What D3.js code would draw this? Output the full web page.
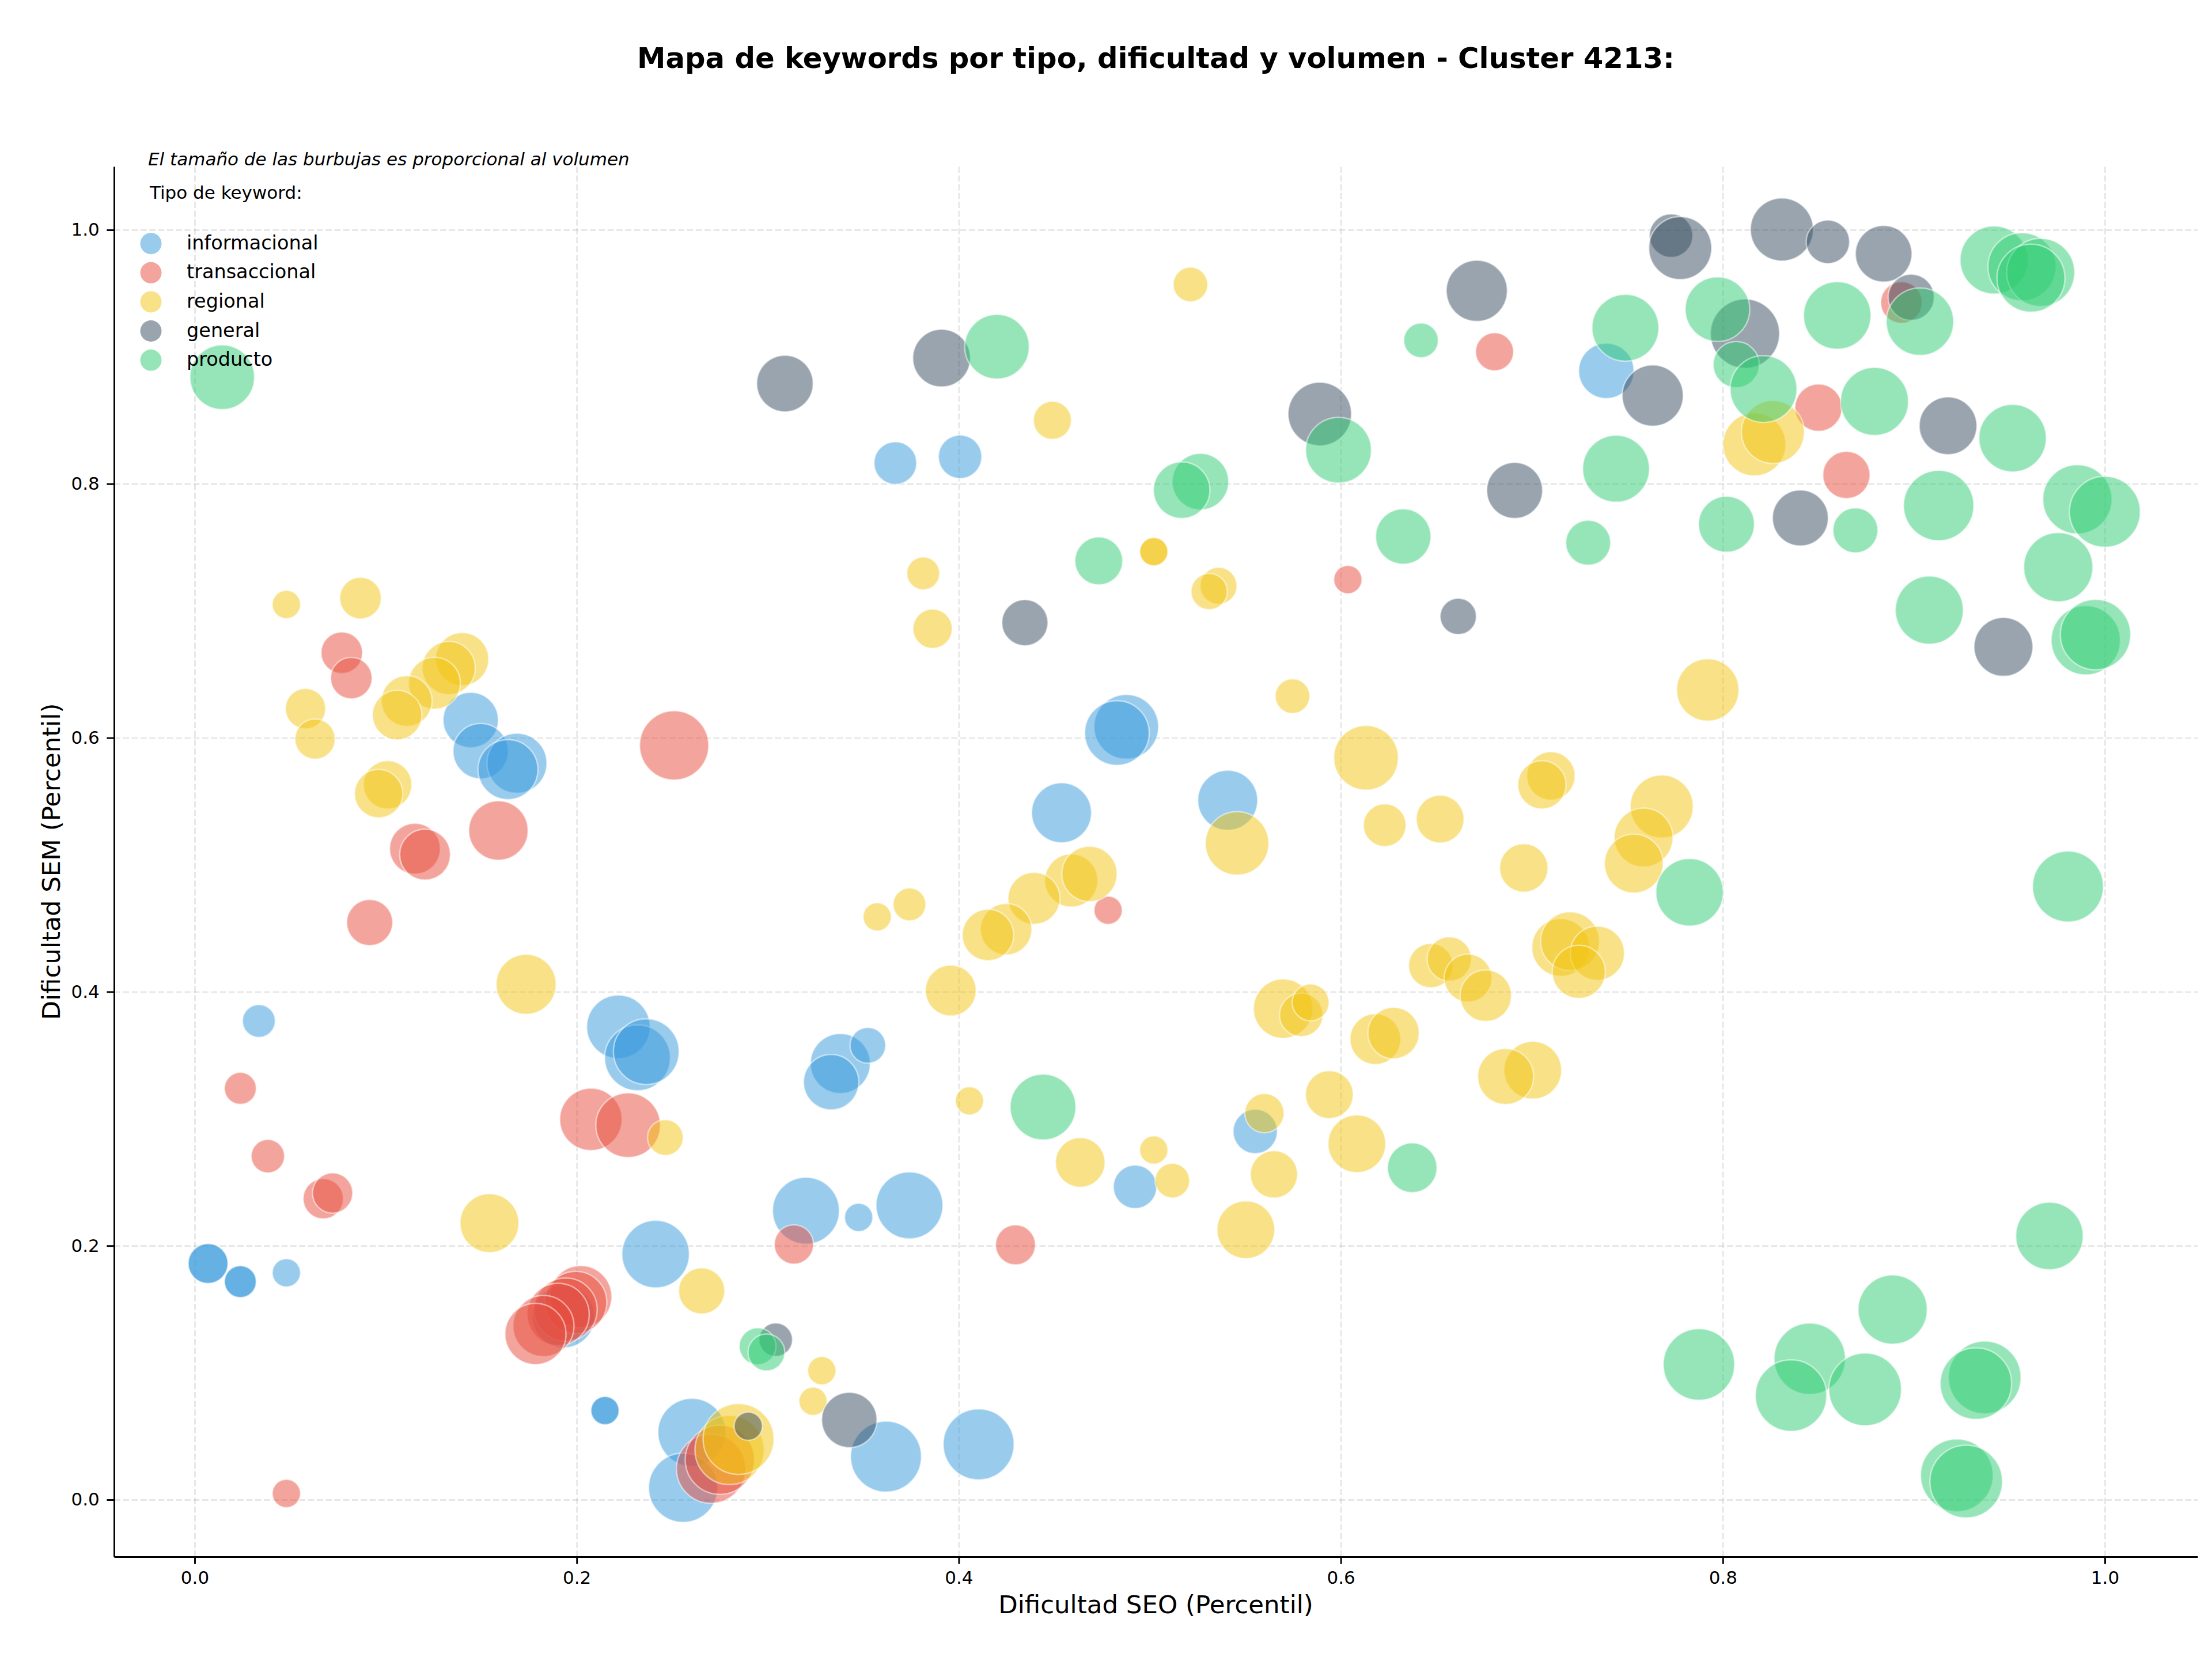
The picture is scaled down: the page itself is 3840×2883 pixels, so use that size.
<!DOCTYPE html>
<html>
<head>
<meta charset="utf-8">
<script src="https://cdn.jsdelivr.net/npm/d3@7"></script>
<style>
  body { margin: 0; background: #fff; }
  text { font-family: "DejaVu Sans", sans-serif; }
</style>
</head>
<body>
<div id="chart"></div>
<script>
// tipos de keyword (orden de dibujo)
var tipos = ["informacional", "transaccional", "regional", "general", "producto"];

// cada punto: [dificultad SEO, dificultad SEM, volumen]
var informacional = [
  [0.1445, 0.614, 2300], [0.1497, 0.5895, 2300], [0.1687, 0.580, 2700], [0.164, 0.575, 2700],
  [0.3668, 0.8164, 1370], [0.4007, 0.8213, 1420], [0.4877, 0.6087, 3140], [0.4828, 0.6038, 3140],
  [0.4538, 0.541, 2700], [0.5408, 0.5508, 2700], [0.739, 0.889, 2300], [0.0336, 0.377, 810],
  [0.2218, 0.3724, 3030], [0.2318, 0.348, 3250], [0.2364, 0.3529, 3250],
  [0.007, 0.186, 1200], [0.007, 0.186, 1200], [0.0239, 0.1717, 770], [0.0239, 0.1717, 770],
  [0.048, 0.1787, 600], [0.2413, 0.1934, 3420], [0.1931, 0.1441, 2920],
  [0.2148, 0.0702, 600], [0.2148, 0.0702, 600], [0.2603, 0.053, 3480], [0.2557, 0.0094, 3600],
  [0.338, 0.3435, 2700], [0.3332, 0.3288, 2300], [0.3524, 0.3578, 960], [0.4923, 0.2464, 1420],
  [0.5552, 0.29, 1480], [0.32, 0.2276, 3360], [0.3476, 0.2223, 600], [0.3742, 0.2318, 3360],
  [0.3619, 0.0339, 3780], [0.4104, 0.0436, 3780]
];
var transaccional = [
  [0.077, 0.667, 1300], [0.082, 0.647, 1300], [0.251, 0.594, 3600], [0.159, 0.527, 2650],
  [0.1153, 0.5127, 1940], [0.1206, 0.508, 1940], [0.6805, 0.904, 1090], [0.6037, 0.7246, 600],
  [0.8935, 0.9428, 1300], [0.8501, 0.86, 1680], [0.8647, 0.807, 1680], [0.0916, 0.4545, 1600],
  [0.0239, 0.3239, 770], [0.0383, 0.2705, 840], [0.0673, 0.237, 1220], [0.0722, 0.2415, 1220],
  [0.2074, 0.2995, 2920], [0.2269, 0.2949, 3140], [0.3137, 0.201, 1160],
  [0.2021, 0.1599, 2900], [0.1995, 0.1553, 2900], [0.1942, 0.1497, 3000], [0.1903, 0.1459, 2900],
  [0.1826, 0.1368, 2800], [0.1784, 0.1305, 2810], [0.2703, 0.0244, 3600], [0.2749, 0.0314, 3600],
  [0.048, 0.0049, 600], [0.4782, 0.4642, 600], [0.4297, 0.2007, 1200]
];
var regional = [
  [0.048, 0.705, 600], [0.0868, 0.710, 1300], [0.140, 0.662, 2120], [0.133, 0.655, 2120],
  [0.1255, 0.643, 2030], [0.111, 0.629, 1940], [0.106, 0.618, 1850], [0.058, 0.623, 1220],
  [0.063, 0.599, 1220], [0.101, 0.563, 1760], [0.0963, 0.556, 1760], [0.5213, 0.957, 900],
  [0.449, 0.850, 1090], [0.5021, 0.7466, 600], [0.5021, 0.7466, 600], [0.536, 0.7197, 1020],
  [0.5311, 0.7152, 990], [0.3814, 0.7295, 810], [0.3863, 0.6859, 1160], [0.5747, 0.6328, 900],
  [0.6132, 0.5843, 3140], [0.5457, 0.5169, 3030], [0.623, 0.5312, 1370], [0.652, 0.536, 1720],
  [0.8165, 0.8311, 2980], [0.8262, 0.8408, 2980], [0.7921, 0.6377, 2920], [0.71, 0.570, 1760],
  [0.7053, 0.563, 1760], [0.768, 0.5459, 2980], [0.7585, 0.5215, 2600], [0.7534, 0.501, 2600],
  [0.6958, 0.4975, 1760], [0.7151, 0.4349, 2500], [0.72, 0.4398, 2600], [0.7343, 0.4304, 2210],
  [0.7246, 0.4157, 2120], [0.7005, 0.3382, 2500], [0.6863, 0.3333, 2350], [0.1735, 0.4059, 2700],
  [0.2464, 0.2852, 960], [0.1543, 0.2178, 2600], [0.2654, 0.1644, 1600], [0.28, 0.0391, 3600],
  [0.2847, 0.0478, 3780], [0.4589, 0.4876, 2120], [0.4684, 0.4928, 2300], [0.3573, 0.459, 600],
  [0.3742, 0.4688, 810], [0.4394, 0.4736, 2030], [0.4248, 0.4492, 1990], [0.4153, 0.4447, 1990],
  [0.3958, 0.401, 1940], [0.4056, 0.3141, 600], [0.4636, 0.2656, 1850], [0.5021, 0.2754, 600],
  [0.5118, 0.2513, 900], [0.56, 0.3044, 1160], [0.565, 0.2562, 1680], [0.5503, 0.2126, 2500],
  [0.594, 0.319, 1720], [0.6084, 0.2803, 2500], [0.3283, 0.1016, 600], [0.3237, 0.0775, 600],
  [0.5698, 0.3867, 2650], [0.5793, 0.3818, 1420], [0.5842, 0.3916, 1020], [0.6181, 0.3627, 1940],
  [0.6276, 0.3675, 1990], [0.6471, 0.4206, 1480], [0.6568, 0.4258, 1480], [0.6666, 0.4108, 1720],
  [0.6759, 0.3969, 1990]
];
var general = [
  [0.309, 0.879, 2400], [0.391, 0.899, 2500], [0.6712, 0.952, 2810], [0.589, 0.855, 3030],
  [0.6615, 0.6956, 990], [0.4346, 0.6907, 1600], [0.7729, 0.9955, 1420], [0.7777, 0.9857, 2980],
  [0.8309, 1.0003, 2980], [0.855, 0.9906, 1420], [0.8842, 0.9812, 2400], [0.8986, 0.9469, 1600],
  [0.7633, 0.8695, 2810], [0.8116, 0.9183, 3600], [0.9179, 0.8457, 2500], [0.691, 0.7948, 2350],
  [0.8406, 0.7731, 2350], [0.9469, 0.6716, 2600], [0.3042, 0.126, 840], [0.2898, 0.0579, 600],
  [0.3427, 0.0628, 2300]
];
var producto = [
  [0.0144, 0.884, 3140], [0.420, 0.908, 3140], [0.642, 0.913, 900], [0.5988, 0.8265, 3250],
  [0.5265, 0.8017, 2400], [0.5167, 0.795, 2400], [0.4733, 0.7393, 1720], [0.6327, 0.7585, 2300],
  [0.942, 0.9763, 3480], [0.9566, 0.971, 3480], [0.9664, 0.9665, 3480], [0.9613, 0.962, 3480],
  [0.9032, 0.9277, 3420], [0.8599, 0.9326, 3420], [0.749, 0.9229, 3360], [0.7972, 0.9375, 3140],
  [0.807, 0.8939, 1600], [0.8213, 0.8747, 3360], [0.8794, 0.8649, 3480], [0.9517, 0.836, 3420],
  [0.7441, 0.8119, 3360], [0.7295, 0.7536, 1520], [0.8019, 0.7682, 2350], [0.8694, 0.7634, 1520],
  [0.913, 0.7829, 3720], [0.9856, 0.7878, 3600], [1.0, 0.778, 3780], [0.9756, 0.7344, 3600],
  [0.9081, 0.7005, 3480], [0.99, 0.6768, 3600], [0.9951, 0.6813, 3720], [0.7826, 0.4783, 3420],
  [0.9807, 0.4829, 3780], [0.4441, 0.3092, 3250], [0.6374, 0.2614, 1850], [0.2947, 0.1208, 1020],
  [0.2993, 0.1159, 1020], [0.971, 0.2077, 3420], [0.8889, 0.1497, 3600], [0.7875, 0.1065, 3840],
  [0.8455, 0.111, 3840], [0.8357, 0.082, 3840], [0.8745, 0.0869, 3970], [0.9371, 0.0963, 3970],
  [0.9325, 0.0914, 3840], [0.9225, 0.0192, 3970], [0.9274, 0.0143, 3970]
];

// ticks de los ejes
var xTicks = [0.0, 0.2, 0.4, 0.6, 0.8, 1.0];
var yTicks = [0.0, 0.2, 0.4, 0.6, 0.8, 1.0];

var series = {
  informacional: informacional,
  transaccional: transaccional,
  regional: regional,
  general: general,
  producto: producto
};

// colores por tipo
var colores = {
  informacional: "#3498db",
  transaccional: "#e74c3c",
  regional: "#f1c40f",
  general: "#34495e",
  producto: "#2ecc71"
};

// svg container
var svgWidth = 3840;
var svgHeight = 2883;

var margin = { top: 289, right: 25, bottom: 181, left: 198 };
var width = svgWidth - margin.left - margin.right;
var height = svgHeight - margin.top - margin.bottom;

var svg = d3.select("#chart")
  .append("svg")
  .attr("width", svgWidth)
  .attr("height", svgHeight)
  .style("background", "#fff");

var chartGroup = svg.append("g")
  .attr("transform", `translate(${margin.left}, ${margin.top})`);

// escalas
var xScale = d3.scaleLinear()
  .domain([-0.04222, 1.04855])
  .range([0, width]);

var yScale = d3.scaleLinear()
  .domain([-0.04492, 1.04991])
  .range([height, 0]);

// area de burbuja proporcional al volumen
var rScale = d3.scaleSqrt()
  .domain([0, 10000])
  .range([0, 100]);

// grid
var gridX = chartGroup.append("g")
  .attr("transform", `translate(0, ${height})`)
  .call(d3.axisBottom(xScale).tickValues(xTicks).tickSize(-height).tickFormat(""));
var gridY = chartGroup.append("g")
  .call(d3.axisLeft(yScale).tickValues(yTicks).tickSize(-width).tickFormat(""));
[gridX, gridY].forEach(function(g) {
  g.select(".domain").remove();
  g.selectAll("line")
    .attr("stroke", "#b0b0b0")
    .attr("stroke-opacity", 0.3)
    .attr("stroke-width", 2.9)
    .attr("stroke-dasharray", "10.7,4.6");
});

// burbujas
tipos.forEach(function(tipo) {
  chartGroup.append("g")
    .selectAll("circle")
    .data(series[tipo])
    .enter()
    .append("circle")
    .attr("cx", d => xScale(d[0]))
    .attr("cy", d => yScale(d[1]))
    .attr("r", d => rScale(d[2]))
    .attr("fill", colores[tipo])
    .attr("fill-opacity", 0.5)
    .attr("stroke", "white")
    .attr("stroke-opacity", 0.5)
    .attr("stroke-width", 2.5);
});

// ejes
var bottomAxis = d3.axisBottom(xScale)
  .tickValues(xTicks)
  .tickFormat(d3.format(".1f"))
  .tickSizeInner(12.6)
  .tickSizeOuter(0)
  .tickPadding(12.6);
var leftAxis = d3.axisLeft(yScale)
  .tickValues(yTicks)
  .tickFormat(d3.format(".1f"))
  .tickSizeInner(12.6)
  .tickSizeOuter(0)
  .tickPadding(12.6);

var xAxisG = chartGroup.append("g")
  .attr("transform", `translate(0, ${height})`)
  .call(bottomAxis);
var yAxisG = chartGroup.append("g")
  .call(leftAxis);

[xAxisG, yAxisG].forEach(function(g) {
  g.attr("font-family", "DejaVu Sans").attr("font-size", 31);
  g.select(".domain").attr("stroke", "#000").attr("stroke-width", 2.9);
  g.selectAll(".tick line").attr("stroke", "#000").attr("stroke-width", 2.9);
  g.selectAll(".tick text").attr("fill", "#000");
});

// titulo
svg.append("text")
  .attr("x", margin.left + width / 2)
  .attr("y", 118)
  .attr("text-anchor", "middle")
  .attr("font-size", 49.7)
  .attr("font-weight", "bold")
  .text("Mapa de keywords por tipo, dificultad y volumen - Cluster 4213:");

// etiquetas de ejes
svg.append("text")
  .attr("x", margin.left + width / 2)
  .attr("y", 2800)
  .attr("text-anchor", "middle")
  .attr("font-size", 43.5)
  .text("Dificultad SEO (Percentil)");

svg.append("text")
  .attr("transform", `translate(104, ${margin.top + height / 2}) rotate(-90)`)
  .attr("text-anchor", "middle")
  .attr("font-size", 43.5)
  .text("Dificultad SEM (Percentil)");

// nota y leyenda
svg.append("text")
  .attr("x", 257)
  .attr("y", 287)
  .attr("font-size", 31)
  .attr("font-style", "italic")
  .text("El tamaño de las burbujas es proporcional al volumen");

svg.append("text")
  .attr("x", 260)
  .attr("y", 345)
  .attr("font-size", 31)
  .text("Tipo de keyword:");

var legend = svg.append("g")
  .selectAll("g")
  .data(tipos)
  .enter()
  .append("g")
  .attr("transform", (d, i) => `translate(262, ${422.7 + i * 50.6})`);

legend.append("circle")
  .attr("r", 18.5)
  .attr("fill", d => colores[d])
  .attr("fill-opacity", 0.5);

legend.append("text")
  .attr("x", 62)
  .attr("y", 10)
  .attr("font-size", 33.5)
  .text(d => d);
</script>
</body>
</html>
